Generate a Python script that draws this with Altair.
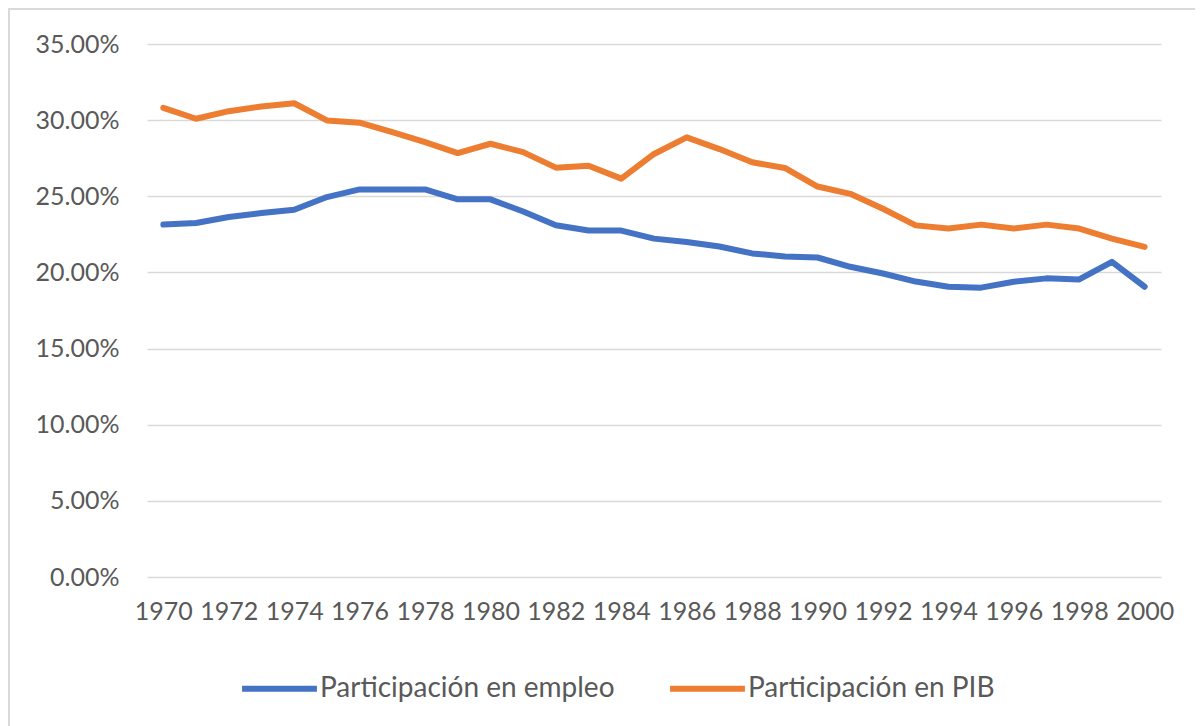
import altair as alt
import pandas as pd

years = list(range(1970, 2001))
empleo = [23.14, 23.25, 23.64, 23.90, 24.12, 24.95, 25.45, 25.45, 25.45, 24.80,
          24.80, 24.00, 23.10, 22.75, 22.75, 22.22, 22.00, 21.70, 21.25, 21.05,
          20.98, 20.37, 19.93, 19.40, 19.06, 19.00, 19.39, 19.61, 19.54, 20.70,
          19.06]
pib = [30.81, 30.09, 30.59, 30.90, 31.11, 29.98, 29.83, 29.21, 28.56, 27.84,
       28.45, 27.90, 26.88, 27.01, 26.16, 27.78, 28.87, 28.10, 27.23, 26.86,
       25.64, 25.16, 24.18, 23.09, 22.88, 23.14, 22.88, 23.14, 22.88, 22.22,
       21.68]
series = ["Participación en empleo", "Participación en PIB"]
colors = ["#4472C4", "#ED7D31"]
x_labels = list(range(1970, 2001, 2))
y_ticks = [0, 0.05, 0.10, 0.15, 0.20, 0.25, 0.30, 0.35]

rows = []
for name, vals in zip(series, [empleo, pib]):
    for y, v in zip(years, vals):
        rows.append({"year": y, "value": v / 100.0, "serie": name})
df = pd.DataFrame(rows)

FONT = "Lato"
GRAY = "#595959"

lines = alt.Chart(df).mark_line(strokeWidth=6, strokeCap="round", strokeJoin="round").encode(
    x=alt.X("year:O", scale=alt.Scale(type="point", padding=0.5),
            axis=alt.Axis(values=x_labels, title=None, labelAngle=0, ticks=False, tickSize=0,
                          domain=False, grid=False, labelOverlap=False, labelPadding=22,
                          labelFontSize=25, labelFont=FONT, labelColor=GRAY)),
    y=alt.Y("value:Q", scale=alt.Scale(domain=[0, 0.35], nice=False, zero=True),
            axis=alt.Axis(values=y_ticks, format=".2%", title=None, ticks=False, tickSize=0,
                          domain=False, grid=True, gridColor="#d9d9d9", gridWidth=1.4,
                          labelPadding=28, labelFontSize=25, labelFont=FONT, labelColor=GRAY)),
    color=alt.Color("serie:N", scale=alt.Scale(domain=series, range=colors),
                    legend=alt.Legend(title=None, orient="none", direction="horizontal",
                                      legendX=92, legendY=604,
                                      symbolType="stroke", symbolSize=5600, symbolStrokeWidth=6,
                                      labelFontSize=28, labelFont=FONT, labelColor=GRAY,
                                      labelOffset=0, columnPadding=43, labelLimit=400)),
)

frame = alt.Chart(alt.Data(values=[{"a": 1}])).mark_rect(
    fill=None, fillOpacity=0, stroke="#d9d9d9", strokeWidth=2
).encode(
    x=alt.value(-138), y=alt.value(-35), x2=alt.value(1014 + 60), y2=alt.value(533 + 180)
)

chart = alt.layer(frame, lines).properties(
    width=1014, height=533,
    padding={"left": 139, "top": 36, "right": 34, "bottom": 149},
    autosize=alt.AutoSizeParams(type="none"),
).configure_view(stroke=None)

chart.save("out.html", embed_options={"renderer": "svg", "actions": False})
